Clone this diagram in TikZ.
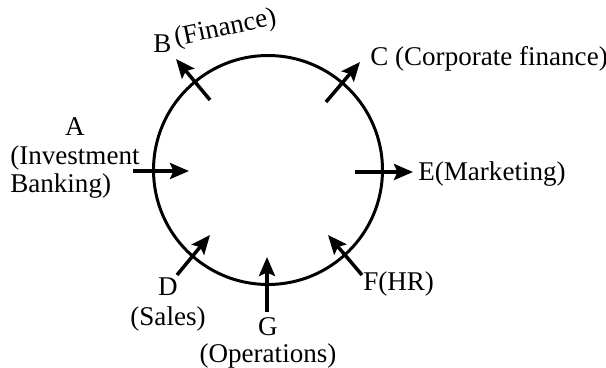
\documentclass[tikz,border=0pt]{standalone}
\usepackage{fontspec}
\setmainfont{Liberation Serif}
\usepackage{calc}
\usetikzlibrary{arrows.meta}

\begin{document}
\begin{tikzpicture}[x=0.02cm,y=-0.02cm,
  lbl/.style={inner sep=0pt,font=\fontsize{15.4}{16.5}\selectfont},
  arr/.style={line width=2pt,-{Stealth[length=3.8mm,width=3.2mm,inset=0.7mm]}}]
  \useasboundingbox (0,0) rectangle (606,368);
  \draw[line width=1.7pt] (268,170) circle[radius=114.5];
  % arrow ends
  \coordinate (At) at (133,171); \coordinate (Ah) at (189,171);
  \coordinate (Bt) at (210,100); \coordinate (Bh) at (176,59);
  \coordinate (Ct) at (326,102); \coordinate (Ch) at (360,62);
  \coordinate (Dt) at (177,275); \coordinate (Dh) at (210,235);
  \coordinate (Et) at (355,172); \coordinate (Eh) at (413,172);
  \coordinate (Ft) at (362,275); \coordinate (Fh) at (328,235);
  \coordinate (Gt) at (267,312); \coordinate (Gh) at (267,257);
  % labels (base = last line)
  \node[lbl,anchor=base west,align=left] (A) at (10,193)
    {\makebox[\widthof{(Investment}]{A}\\(Investment\\Banking)};
  \node[lbl,anchor=base west] (B) at (153,53) {B};
  \node[lbl,anchor=base west,rotate=12] (Bfin) at ([shift={(4,-7)}]B.base east) {(Finance)};
  \node[lbl,anchor=base west] (C) at (370,66) {C (Corporate finance)};
  \node[lbl,anchor=base,align=center] (D) at (168,326) {D\\[1pt](Sales)};
  \node[lbl,anchor=base west] (E) at (418,181) {E(Marketing)};
  \node[lbl,anchor=base west] (F) at (363,291) {F(HR)};
  \node[lbl,anchor=base,align=center] (G) at (268,362) {G\\[-1.7pt](Operations)};
  % arrows
  \draw[arr] (At) -- (Ah);
  \draw[arr] (Bt) -- (Bh);
  \draw[arr] (Ct) -- (Ch);
  \draw[arr] (Dt) -- (Dh);
  \draw[arr] (Et) -- (Eh);
  \draw[arr] (Ft) -- (Fh);
  \draw[arr] (Gt) -- (Gh);
\end{tikzpicture}
\end{document}
